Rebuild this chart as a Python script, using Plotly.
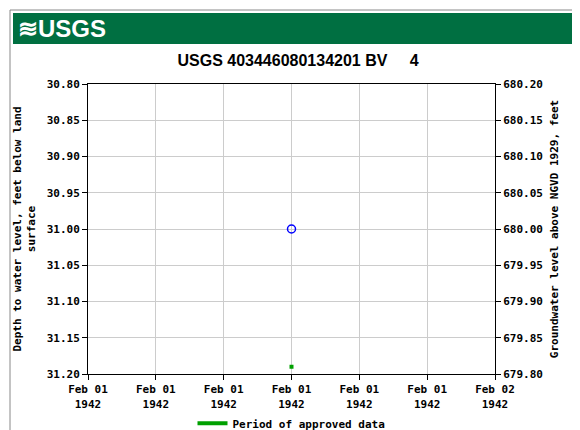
import plotly.graph_objects as go

tick_times = ["1942-02-01 00:00","1942-02-01 04:00","1942-02-01 08:00","1942-02-01 12:00",
              "1942-02-01 16:00","1942-02-01 20:00","1942-02-02 00:00"]
tick_text = ["Feb 01<br>1942"]*6 + ["Feb 02<br>1942"]
point_time = ["1942-02-01 12:00"]
point_depth = [31.00]
approved_time = ["1942-02-01 12:00"]
approved_depth = [31.19]
left_ticks = [30.80,30.85,30.90,30.95,31.00,31.05,31.10,31.15,31.20]
right_ticks = [680.20,680.15,680.10,680.05,680.00,679.95,679.90,679.85,679.80]

mono = dict(family="DejaVu Sans Mono", size=11, color="black", weight="bold")
fig = go.Figure()
fig.add_trace(go.Scatter(x=point_time, y=point_depth, mode="markers", showlegend=False,
    marker=dict(symbol="circle-open", size=8, color="blue", line=dict(width=1.5))))
fig.add_trace(go.Scatter(x=approved_time, y=approved_depth, mode="markers", showlegend=False,
    marker=dict(symbol="square", size=4, color="#00a000")))
fig.add_trace(go.Scatter(x=[None], y=[None], mode="lines", name="Period of approved data",
    line=dict(color="#00a000", width=4)))
fig.add_trace(go.Scatter(x=point_time, y=[680.0], yaxis="y2", mode="markers",
    marker=dict(opacity=0), showlegend=False, hoverinfo="skip"))

fig.update_layout(
    width=580, height=430, margin=dict(l=80, r=93, t=76, b=64, autoexpand=False),
    paper_bgcolor="white", plot_bgcolor="white", font=mono,
    title=dict(text="USGS 403446080134201 BV     4", x=0.5, xanchor="center", y=0.877, yanchor="middle",
               font=dict(family="Liberation Sans", size=16, color="black", weight="bold")),
    xaxis=dict(type="date", range=[tick_times[0], tick_times[-1]], tickvals=tick_times, ticktext=tick_text,
               showgrid=True, gridcolor="#cccccc", showline=True, linecolor="black", mirror=True,
               ticks="outside", tickcolor="black", ticklen=5, tickfont=mono, automargin=False),
    yaxis=dict(range=[31.20, 30.80], tickvals=left_ticks, ticktext=[f"{v:.2f}" for v in left_ticks],
               showgrid=True, gridcolor="#cccccc", showline=True, linecolor="black", mirror=True,
               ticks="outside", tickcolor="black", ticklen=5, tickfont=mono, automargin=False,
               title=dict(text="Depth to water level, feet below land<br>surface", font=mono, standoff=8)),
    yaxis2=dict(overlaying="y", side="right", range=[679.80, 680.20], tickvals=right_ticks,
                ticktext=[f"{v:.2f}" for v in right_ticks], showgrid=False, automargin=False,
                ticks="outside", tickcolor="black", ticklen=5, tickfont=mono,
                title=dict(text="Groundwater level above NGVD 1929, feet", font=mono, standoff=8)),
    legend=dict(orientation="h", x=0.5, xanchor="center", y=-0.12, yanchor="top", font=mono),
    shapes=[
        dict(type="rect", xref="paper", yref="paper", x0=-78/407, x1=(407+91)/407, y0=-62/290, y1=(290+74)/290,
             line=dict(color="#888888", width=1)),
        dict(type="rect", xref="paper", yref="paper", x0=-75/407, x1=(407+88)/407, y0=(290+40)/290, y1=(290+71)/290,
             fillcolor="#006f41", line=dict(width=0)),
    ],
    annotations=[dict(text="<b>≋USGS</b>", xref="paper", yref="paper", x=-72/407, y=(290+56)/290,
                      xanchor="left", yanchor="middle", showarrow=False,
                      font=dict(family="Liberation Sans", size=24, color="white"))],
)
fig.write_html("out.html")
